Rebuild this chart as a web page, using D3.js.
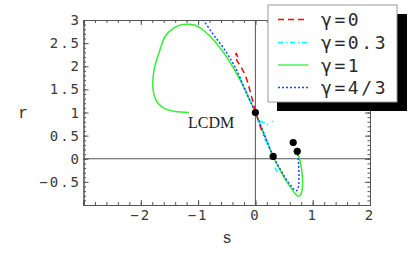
<!DOCTYPE html>
<html><head><meta charset="utf-8">
<script src="https://cdn.jsdelivr.net/npm/d3@7"></script>
<style>body{margin:0;background:#fff;}svg{display:block;}</style>
</head><body>
<script>
// ---- data ----
const xTicks = [-2, -1, 0, 1, 2];
const yTicks = [-0.5, 0, 0.5, 1, 1.5, 2, 2.5, 3];
const legendLabels = ["γ=0", "γ=0.3", "γ=1", "γ=4/3"];

const redS = [-0.31, -0.335, -0.345, -0.32, -0.26, -0.17, -0.06, 0, 0.07, 0.145];
const redR = [2.20, 2.28, 2.22, 2.12, 2.00, 1.78, 1.31, 1.03, 0.75, 0.50];

// null separates pieces
const cyanS = [-0.28, -0.15, 0, 0.15, 0.31, null, 0.08, 0.18, 0.26, null, 0.30, 0.305, null, 0.16, 0.24, null, 0.34, 0.41];
const cyanR = [1.78, 1.42, 1.00, 0.54, 0.05, null, 0.82, 0.76, 0.70, null, 0.82, 0.80, null, 0.43, 0.27, null, -0.19, -0.34];

const greenS = [-1.16, -1.40, -1.57, -1.70, -1.77, -1.79, -1.76, -1.68, -1.57, -1.42, -1.29, -1.19, -1.06, -0.93, -0.80, -0.67, -0.47, -0.23, 0, 0.15, 0.31, 0.43, 0.53, 0.62, 0.69, 0.75, 0.79, 0.82, 0.82, 0.80, 0.77, 0.74];
const greenR = [1.00, 1.02, 1.08, 1.20, 1.38, 1.67, 1.98, 2.30, 2.66, 2.83, 2.90, 2.91, 2.89, 2.80, 2.66, 2.48, 2.14, 1.62, 1.00, 0.54, 0.05, -0.24, -0.46, -0.63, -0.75, -0.81, -0.78, -0.62, -0.40, -0.18, 0.00, 0.12];

const blueS = [-1.00, -0.90, -0.73, -0.55, -0.35, -0.15, 0, 0.15, 0.31, 0.43, 0.53, 0.62, 0.68, 0.72, 0.75, 0.76, 0.75, 0.73];
const blueR = [3.15, 2.98, 2.68, 2.38, 1.97, 1.40, 1.00, 0.54, 0.05, -0.22, -0.43, -0.58, -0.67, -0.69, -0.62, -0.35, -0.05, 0.16];

const dotS = [0, 0.31, 0.66, 0.73];
const dotR = [1.0, 0.05, 0.35, 0.16];

const seriesColors = ["#ff0000", "#00ffff", "#33ee33", "#1848ff"];
const seriesDash = ["6,4", "5,3,1,3", null, "2,2"];

// ---- layout ----
const W = 416, H = 256;
const L = 83.5, R = 370, T = 20, B = 205;
const x = d3.scaleLinear().domain([-3, 2]).range([L, R]);
const y = d3.scaleLinear().domain([-1, 3]).range([B, T]);

const svg = d3.select("body").append("svg").attr("width", W).attr("height", H);

svg.append("defs").append("clipPath").attr("id", "clip")
  .append("rect").attr("x", L).attr("y", T).attr("width", R - L).attr("height", B - T);

const axisColor = "#555";
// zero lines
svg.append("line").attr("x1", x(0)).attr("x2", x(0)).attr("y1", T).attr("y2", B).attr("stroke", axisColor).attr("stroke-width", 1);
svg.append("line").attr("x1", L).attr("x2", R).attr("y1", y(0)).attr("y2", y(0)).attr("stroke", axisColor).attr("stroke-width", 1);

// frame axes with inward ticks
function frameAxis(axisGen, tx, ty) {
  const g = svg.append("g").attr("transform", `translate(${tx},${ty})`).call(axisGen);
  g.selectAll("path.domain").attr("stroke", axisColor);
  g.selectAll("line").attr("stroke", axisColor);
  return g;
}
const xMinor = d3.range(-3, 2.001, 0.2).map(v => +v.toFixed(2));
const yMinor = d3.range(-1, 3.001, 0.1).map(v => +v.toFixed(2));

// minor ticks (all sides)
frameAxis(d3.axisTop(x).tickValues(xMinor).tickSize(3).tickFormat(""), 0, B);
frameAxis(d3.axisBottom(x).tickValues(xMinor).tickSize(3).tickFormat(""), 0, T);
frameAxis(d3.axisRight(y).tickValues(yMinor).tickSize(2.5).tickFormat(""), L, 0);
frameAxis(d3.axisLeft(y).tickValues(yMinor).tickSize(2.5).tickFormat(""), R, 0);
// major ticks
frameAxis(d3.axisTop(x).tickValues([-3, ...xTicks]).tickSize(5).tickFormat(""), 0, B);
frameAxis(d3.axisBottom(x).tickValues([-3, ...xTicks]).tickSize(5).tickFormat(""), 0, T);
frameAxis(d3.axisRight(y).tickValues([-1, ...yTicks]).tickSize(5).tickFormat(""), L, 0);
frameAxis(d3.axisLeft(y).tickValues([-1, ...yTicks]).tickSize(5).tickFormat(""), R, 0);

const fmt = v => String(v).replace("-", "\u2212");
const tickFont = "'DejaVu Sans Mono', monospace";
svg.append("g").selectAll("text").data(xTicks).join("text")
  .attr("x", d => x(d)).attr("y", 220).attr("text-anchor", "middle")
  .attr("font-family", tickFont).attr("font-size", 14).attr("letter-spacing", 2).attr("fill", "#3a3a3a")
  .text(fmt);
svg.append("g").selectAll("text").data(yTicks).join("text")
  .attr("x", 81).attr("y", d => y(d) + 5).attr("text-anchor", "end")
  .attr("font-family", tickFont).attr("font-size", 14).attr("letter-spacing", 2).attr("fill", "#3a3a3a")
  .text(fmt);

// axis labels
svg.append("text").attr("x", 23).attr("y", 118).attr("text-anchor", "middle")
  .attr("font-family", "'Liberation Mono', monospace").attr("font-size", 16).attr("fill", "#333").text("r");
svg.append("text").attr("x", 227).attr("y", 243).attr("text-anchor", "middle")
  .attr("font-family", "'Liberation Mono', monospace").attr("font-size", 16).attr("fill", "#333").text("s");

// curves
const plot = svg.append("g").attr("clip-path", "url(#clip)");
function mk(sArr, rArr) { return sArr.map((s, i) => ({ s, r: rArr[i] })); }
const line = d3.line().defined(d => d.s !== null).x(d => x(d.s)).y(d => y(d.r)).curve(d3.curveCatmullRom);
const series = [mk(redS, redR), mk(cyanS, cyanR), mk(greenS, greenR), mk(blueS, blueR)];
const order = [2, 0, 1, 3];
order.forEach(i => {
  plot.append("path").attr("d", line(series[i])).attr("fill", "none")
    .attr("stroke", seriesColors[i]).attr("stroke-width", 1.5)
    .attr("stroke-dasharray", seriesDash[i]);
});

// dots
plot.selectAll("circle").data(mk(dotS, dotR)).join("circle")
  .attr("cx", d => x(d.s)).attr("cy", d => y(d.r)).attr("r", 3.6).attr("fill", "#000");

// LCDM label
svg.append("text").attr("x", 188).attr("y", 128)
  .attr("font-family", "'Liberation Serif', serif").attr("font-size", 16).attr("fill", "#222").text("LCDM");

// legend
const lg = svg.append("g");
lg.append("rect").attr("x", 277).attr("y", 14).attr("width", 130).attr("height", 97).attr("fill", "#000");
lg.append("rect").attr("x", 268).attr("y", 5).attr("width", 129).attr("height", 97)
  .attr("fill", "#fff").attr("stroke", "#999").attr("stroke-width", 1);
const rowY = [19.5, 42.5, 65, 87.5];
legendLabels.forEach((lab, i) => {
  lg.append("line").attr("x1", 278).attr("x2", 308).attr("y1", rowY[i]).attr("y2", rowY[i])
    .attr("stroke", seriesColors[i]).attr("stroke-width", 1.3).attr("stroke-dasharray", seriesDash[i]);
  lg.append("text").attr("x", 321).attr("y", rowY[i] + 6.5)
    .attr("font-family", tickFont).attr("font-size", 18).attr("letter-spacing", 2.6).attr("fill", "#2a2a2a")
    .text(lab);
});
</script>
</body></html>
